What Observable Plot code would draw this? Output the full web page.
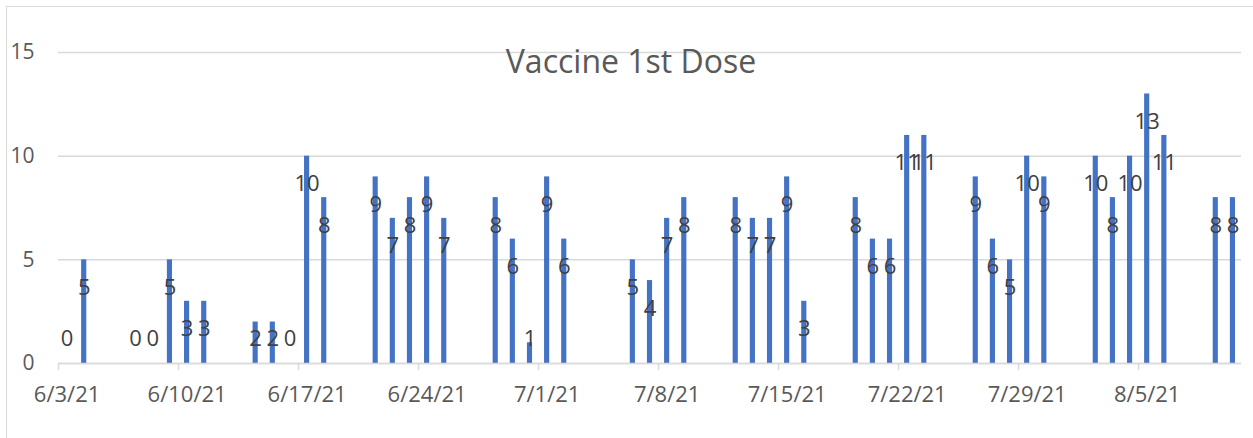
<!DOCTYPE html>
<html>
<head>
<meta charset="utf-8">
<script src="https://cdn.jsdelivr.net/npm/d3@7"></script>
<script src="https://cdn.jsdelivr.net/npm/@observablehq/plot@0.6"></script>
<style>
  html, body { margin: 0; padding: 0; background: #fff; }
  #wrap { position: relative; width: 1253px; height: 438px; overflow: hidden; }
  #border { position: absolute; left: 6px; top: 6px; width: 1260px; height: 460px; border: 1.5px solid #d9d9d9; box-sizing: border-box; }
  #chart { position: absolute; left: 0; top: 0; }
</style>
</head>
<body>
<div id="wrap"><div id="border"></div><div id="chart"></div></div>
<script>
const title = "Vaccine 1st Dose";
const dates = ["2021-06-03","2021-06-04","2021-06-07","2021-06-08","2021-06-09","2021-06-10","2021-06-11","2021-06-14","2021-06-15","2021-06-16","2021-06-17","2021-06-18","2021-06-21","2021-06-22","2021-06-23","2021-06-24","2021-06-25","2021-06-28","2021-06-29","2021-06-30","2021-07-01","2021-07-02","2021-07-06","2021-07-07","2021-07-08","2021-07-09","2021-07-12","2021-07-13","2021-07-14","2021-07-15","2021-07-16","2021-07-19","2021-07-20","2021-07-21","2021-07-22","2021-07-23","2021-07-26","2021-07-27","2021-07-28","2021-07-29","2021-07-30","2021-08-02","2021-08-03","2021-08-04","2021-08-05","2021-08-06","2021-08-09","2021-08-10"];
const values = [0,5,0,0,5,3,3,2,2,0,10,8,9,7,8,9,7,8,6,1,9,6,5,4,7,8,8,7,7,9,3,8,6,6,11,11,9,6,5,10,9,10,8,10,13,11,8,8];
const tickDates = ["2021-06-03","2021-06-10","2021-06-17","2021-06-24","2021-07-01","2021-07-08","2021-07-15","2021-07-22","2021-07-29","2021-08-05"];
const xDomain = ["2021-06-03","2021-08-11"];
const yTicks = [0, 5, 10, 15];

const parse = d3.utcParse("%Y-%m-%d");
const fmt = d3.utcFormat("%-m/%-d/%y");
const data = dates.map((d, i) => ({date: parse(d), value: values[i]}));
const ticks = tickDates.map(parse);
const mid = d => new Date(+d + 12 * 3600 * 1000);

const font = "'Open Sans', 'Noto Sans', sans-serif";

const chart = Plot.plot({
  width: 1253,
  height: 438,
  marginLeft: 58,
  marginRight: 12,
  marginTop: 52,
  marginBottom: 75,
  style: {fontFamily: font, fontSize: "22px", color: "#595959", background: "transparent"},
  x: {type: "utc", domain: xDomain.map(parse), label: null},
  y: {domain: [0, 15], label: null},
  marks: [
    Plot.gridY(yTicks, {stroke: "#d9d9d9", strokeOpacity: 1, strokeWidth: 1.5}),
    Plot.text([title], {frameAnchor: "top", dx: -19, dy: -2, fontSize: 32, fill: "#595959", fontFamily: font}),
    Plot.rectY(data, {x1: "date", x2: d => d3.utcDay.offset(d.date, 1), y: "value", fill: "#4472C4", insetLeft: 6, insetRight: 6}),
    Plot.ruleY([0], {stroke: "#d9d9d9", strokeWidth: 1.5}),
    Plot.axisX(ticks, {tickSize: 7, stroke: "#d9d9d9", strokeWidth: 1.5, tickFormat: null, text: null, label: null}),
    Plot.axisX(ticks.map(mid), {tickSize: 0, tickPadding: 23, tickFormat: d => fmt(new Date(+d - 12 * 3600 * 1000)), fill: "#595959", fontSize: 22, label: null}),
    Plot.axisY(yTicks, {tickSize: 0, tickPadding: 24, fill: "#595959", fontSize: 21, label: null}),
    Plot.text(data, {x: d => mid(d.date), y: d => Math.max(d.value, 2.55), dy: 28, text: d => String(d.value), fill: "#404040", fontSize: 22, fontFamily: font})
  ]
});
document.getElementById("chart").appendChild(chart);
</script>
</body>
</html>
